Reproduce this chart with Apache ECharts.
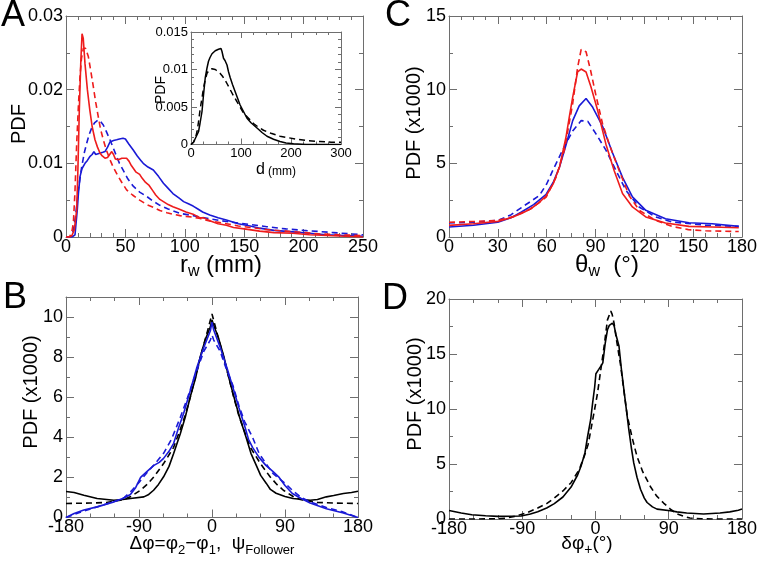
<!DOCTYPE html>
<html><head><meta charset="utf-8">
<script src="https://cdn.jsdelivr.net/npm/echarts@6/dist/echarts.min.js"></script>
<style>html,body{margin:0;padding:0;background:#fff}#c{width:760px;height:564px}</style>
</head><body><div id="c"></div>
<script>
// ---------- Panel A: r_w (mm) vs PDF ----------
const aRedSolid = [[0,0],[3,0],[5,0.0002],[7,0.001],[9,0.0037],[10,0.009],[11.2,0.0172],[12.5,0.024],[13.5,0.0276],[14.5,0.027],[16,0.0235],[18,0.02],[20,0.0173],[22,0.015],[24.4,0.0132],[26.5,0.0122],[28.6,0.0114],[30.5,0.011],[32.8,0.0107],[35,0.0108],[36.5,0.0106],[38.5,0.0116],[40,0.0112],[41.5,0.0106],[44,0.0105],[47,0.0107],[51,0.0107],[53,0.0103],[55,0.0097],[59,0.0088],[62,0.0085],[64,0.008],[67,0.0074],[70,0.007],[73,0.0063],[75.5,0.0057],[79,0.0051],[82,0.0048],[86,0.0044],[90,0.0041],[95,0.0038],[101,0.0034],[107,0.0031],[113,0.0026],[116,0.0026],[121,0.0022],[128,0.0018],[135,0.0016],[141,0.0013],[150,0.0011],[163,0.0008],[175,0.0006],[191,0.0005],[205,0.0003],[220,0.0002],[235,0.0001],[250,0]];
const aRedDashed = [[0,0],[3,0],[5,0.0008],[6.2,0.0019],[7.5,0.006],[9,0.0127],[10.5,0.018],[11.8,0.0218],[13,0.0242],[14.6,0.0256],[16.5,0.0256],[18.8,0.0245],[21,0.0224],[23,0.0204],[25,0.0183],[27.2,0.0163],[29,0.0147],[31.4,0.0132],[34,0.0118],[37,0.0105],[40,0.0094],[44,0.0082],[47,0.0074],[51,0.0064],[56,0.0057],[62,0.005],[68,0.0044],[74,0.004],[79,0.0036],[85,0.0033],[90,0.0031],[96,0.0029],[101,0.0028],[107,0.0027],[113,0.0025],[120,0.0022],[128,0.002],[135,0.0018],[145,0.0015],[155,0.0013],[169,0.001],[185,0.0008],[200,0.0006],[215,0.0004],[230,0.0003],[250,0.0002]];
const aBlueSolid = [[0,0],[5,0],[7.6,0.0003],[9.5,0.0037],[10.5,0.006],[11.8,0.0082],[13.5,0.0093],[16,0.01],[18,0.0104],[20,0.0109],[22,0.0112],[23.5,0.0116],[25,0.0112],[27,0.0113],[28.6,0.0114],[31,0.0115],[32.8,0.0116],[35,0.0122],[37,0.0129],[40,0.0131],[42.6,0.0132],[45,0.0133],[48,0.0134],[50,0.0133],[53,0.0126],[56.6,0.0118],[60,0.011],[63,0.0104],[65,0.01],[69,0.0095],[73.5,0.0091],[78,0.0082],[82,0.0073],[86,0.0066],[90,0.0059],[95,0.0053],[99,0.0048],[103,0.0045],[107,0.0042],[111,0.0038],[115,0.0034],[121,0.003],[128,0.0026],[135,0.0023],[145,0.0018],[155,0.0015],[163,0.0012],[175,0.0009],[191,0.0007],[205,0.0005],[219,0.0003],[235,0.0002],[250,0.0001]];
const aBlueDashed = [[0,0],[4,0],[6,0.0008],[8,0.0028],[10.4,0.0064],[13.2,0.0095],[15.5,0.0115],[17.4,0.0127],[19.5,0.0139],[21.6,0.0148],[24,0.0155],[27,0.0159],[29,0.0157],[31.4,0.0152],[34,0.0143],[37,0.0132],[40,0.012],[42.7,0.0109],[45,0.01],[48,0.0091],[52,0.0079],[56.6,0.0069],[62,0.0061],[68,0.0055],[73,0.0049],[79,0.0043],[86,0.0038],[96,0.0032],[107,0.0029],[120,0.0025],[135,0.0021],[150,0.0018],[169,0.0014],[185,0.0011],[200,0.0009],[225,0.0006],[250,0.0003]];
// ---------- Inset: d (mm) vs PDF ----------
const insetSolid = [[0,0],[5,0.0003],[8.6,0.0008],[15,0.0017],[18,0.0028],[22,0.0044],[25,0.0066],[28.5,0.0089],[32,0.0102],[35,0.0111],[38,0.0116],[42,0.0121],[45,0.0123],[48.5,0.0125],[52,0.0126],[55,0.0127],[58,0.0125],[60,0.0128],[62,0.0124],[65,0.0115],[68,0.0112],[72,0.0106],[75,0.0097],[78.5,0.0089],[83,0.008],[88,0.0071],[93,0.0062],[98,0.0053],[105,0.0044],[108,0.0042],[112,0.0035],[120,0.0029],[132,0.0022],[142,0.0016],[152,0.0011],[165,0.0007],[178,0.0004],[190,0.0002],[205,0.0001],[230,0],[300,0]];
const insetDashed = [[0,0],[5,0.0003],[9,0.0009],[12,0.0017],[15,0.003],[18.5,0.0048],[22,0.0062],[25,0.0075],[28,0.0085],[32,0.0095],[36,0.0099],[42,0.0101],[48.5,0.01],[53,0.0098],[58,0.0095],[63,0.0091],[68,0.0086],[73,0.008],[78.5,0.0073],[85,0.0065],[92,0.0057],[98,0.005],[105,0.0042],[115,0.0035],[125,0.0028],[135,0.0023],[145,0.0019],[160,0.0015],[178,0.0011],[195,0.0009],[211,0.0007],[235,0.0005],[258,0.0004],[280,0.0003],[300,0.0003]];
// ---------- Panel C: theta_w vs PDF (x1000) ----------
const cRedSolid = [[0,0.79],[15,0.9],[30,1.06],[38,1.3],[44.5,1.6],[50,1.9],[55,2.3],[59.7,2.8],[64,3.6],[67.9,4.75],[71.9,6.8],[74,8.2],[76,9.5],[79,11.2],[81.2,11.4],[84.2,11.2],[87.2,10.2],[91.3,8.6],[96.4,6.3],[101.5,4.5],[106.6,2.95],[112.7,2.04],[120.9,1.36],[133,0.95],[147.4,0.72],[161.7,0.68],[178,0.63]];
const cRedDashed = [[0,1.0],[15,1.05],[30,1.13],[40,1.4],[50,1.9],[59.7,2.7],[65.8,4.07],[70.9,5.9],[76,9.06],[79,11.5],[81.2,12.73],[84.2,12.57],[87,11.3],[90.3,9.6],[94.3,7.7],[98.4,6.3],[104.6,4.5],[110.7,2.8],[117,1.8],[127,1.13],[137,0.72],[147,0.5],[157.6,0.42],[178,0.37]];
const cBlueSolid = [[0,0.68],[15,0.8],[30,1.0],[38,1.3],[44.5,1.7],[52,2.2],[59.7,2.9],[64,3.7],[67.9,4.75],[72,6.3],[76,7.9],[80,8.9],[84.2,9.4],[88.3,8.8],[94.4,7.5],[100.5,5.7],[106.6,4.05],[112.7,2.72],[120.9,1.81],[133,1.24],[147.4,0.97],[161.7,0.9],[178,0.72]];
const cBlueDashed = [[0,0.95],[15,1.0],[30,1.13],[38,1.5],[44.5,2.0],[50,2.4],[55.6,2.83],[60,3.6],[63.7,4.5],[69.8,5.9],[76,7.2],[81.2,7.9],[85.3,7.85],[90.3,7.0],[96.4,5.9],[102.5,4.53],[108.7,3.17],[116.8,2.04],[127,1.36],[137,1.02],[157.6,0.8],[178,0.72]];
// ---------- Panel B: delta phi vs PDF (x1000) ----------
const bBlackSolid = [[-180,1.3],[-170,1.25],[-158,1.11],[-141.6,0.95],[-121,0.86],[-110,0.9],[-100.6,0.95],[-84,1.03],[-78,1.15],[-72,1.36],[-66,1.65],[-59.7,2.03],[-53,2.55],[-47.3,3.19],[-39,4.19],[-33,5.0],[-26.8,6.02],[-20,7.0],[-14.5,8.02],[-8,8.9],[-2.1,9.5],[0,9.85],[2,9.6],[8,8.95],[14.5,8.05],[20,7.1],[26.8,6.05],[34,5.0],[42,4.0],[48,3.2],[54.6,2.6],[60,2.1],[67,1.7],[72,1.4],[79,1.21],[90,1.05],[100,0.95],[121,0.86],[130,0.9],[141,1.03],[150,1.1],[162,1.2],[172,1.25],[180,1.31]];
const bBlackDashed = [[-180,0.7],[-150,0.72],[-130,0.75],[-115,0.85],[-108.8,0.9],[-100,1.05],[-88,1.36],[-80,1.65],[-71.6,2.03],[-59.7,2.69],[-47.3,3.5],[-40,4.3],[-33,5.1],[-26.8,6.0],[-20,7.1],[-13,8.2],[-6.2,9.2],[-2,9.85],[0,10.15],[2,9.85],[6.2,9.2],[13,8.2],[20,7.1],[26.8,6.0],[33,5.1],[40,4.3],[47.3,3.5],[59.7,2.69],[71.6,2.03],[80,1.65],[88,1.36],[100,1.05],[108.8,0.9],[115,0.85],[130,0.75],[150,0.72],[180,0.7]];
const bBlueSolid = [[-180,0],[-170,0.2],[-158,0.37],[-141.6,0.53],[-121,0.78],[-110,0.95],[-100.6,1.15],[-94,1.5],[-88,2.0],[-80,2.3],[-71.6,2.6],[-65,2.75],[-59.7,2.95],[-53,3.3],[-47.3,3.7],[-41,4.5],[-35,5.19],[-27,6.3],[-18.6,7.5],[-10,8.5],[-2.1,9.3],[0,9.75],[2.1,9.35],[10,8.5],[18.6,7.45],[25.7,6.5],[33,5.5],[40,4.6],[45,3.9],[50,3.5],[58,3.0],[66.4,2.6],[75,2.3],[82.8,2.0],[90,1.6],[99,1.2],[110,0.95],[121,0.72],[141,0.44],[162,0.22],[172,0.1],[180,0]];
const bBlueDashed = [[-180,0],[-160,0.3],[-140,0.55],[-120,0.8],[-108,1.0],[-100,1.3],[-90,1.75],[-80,2.25],[-70,2.7],[-59.7,3.2],[-50,3.9],[-39,5.0],[-30,6.0],[-18.6,7.35],[-10,8.3],[-2.1,8.85],[0,9.1],[2.1,8.85],[10,8.3],[18.6,7.3],[25.7,6.6],[33,5.6],[40,4.8],[50,4.0],[58,3.2],[66.4,2.7],[75,2.2],[90,1.7],[99,1.36],[110,1.0],[120,0.8],[141,0.5],[160,0.3],[180,0]];
// ---------- Panel D: delta phi+ vs PDF (x1000) ----------
const dBlackSolid = [[-180,0.78],[-165,0.55],[-152,0.39],[-135,0.3],[-120,0.24],[-105,0.25],[-91.4,0.27],[-80,0.45],[-71,0.66],[-60,1.0],[-50.6,1.4],[-40,2.0],[-30,2.9],[-22,4.0],[-17.8,4.8],[-13,6.0],[-9.7,7.5],[-6,9.0],[-3.6,10.5],[-1,12.0],[0.5,13.2],[4,13.6],[6.6,13.9],[9,14.2],[12,16.0],[14.7,17.2],[17,17.6],[20.8,17.8],[22.8,17.6],[25,16.8],[28.9,15.7],[32,13.5],[35,11.7],[38,9.9],[41,8.1],[44,6.5],[47,5.1],[51,3.8],[55.3,2.7],[60,1.9],[63.4,1.5],[70,1.1],[75.6,0.9],[91.9,0.75],[100,0.65],[112,0.54],[132.8,0.45],[153,0.54],[165,0.65],[175.5,0.8],[180,0.9]];
const dBlackDashed = [[-180,0],[-150,0],[-120,0.02],[-110,0.08],[-99.6,0.24],[-85,0.55],[-71,1.0],[-60,1.4],[-50.6,1.9],[-40,2.55],[-30,3.3],[-20,4.5],[-13.8,5.7],[-9,6.8],[-5.7,8.1],[-1,10.0],[2.4,11.4],[6,13.3],[10.6,15.7],[14.7,18.1],[18.8,18.9],[20.5,18.6],[22.8,17.8],[26,16.2],[31,13.9],[35,11.6],[39,9.4],[45,7.4],[51,5.69],[58,4.3],[67.4,2.96],[75,2.1],[83.7,1.45],[92,0.9],[100,0.48],[108,0.25],[116,0.09],[130,0.02],[150,0],[180,0]];

const FONT = 'Liberation Sans';
const GRAY = '#6e6e6e';
const RED = '#ee1c1c', BLUE = '#1a1ad6', BLACK = '#000';

const grids = [
  {left:66, top:16, width:297, height:221},    // A
  {left:191, top:32, width:150, height:112.5}, // inset
  {left:449, top:16, width:294, height:221},   // C
  {left:66, top:297, width:292, height:220.5}, // B
  {left:449, top:299, width:295, height:220}   // D
];
const axesCfg = [
  {x:{min:0,max:250,major:50,minor:10}, y:{min:0,max:0.03,major:0.01,minor:0.005}, fs:18},
  {x:{min:0,max:300,major:100,minor:25}, y:{min:0,max:0.015,major:0.005,minor:0.001}, fs:13},
  {x:{min:0,max:180,major:30,minor:7.5}, y:{min:0,max:15,major:5,minor:2.5}, fs:18},
  {x:{min:-180,max:180,major:90,minor:30}, y:{min:0,max:11,major:2,minor:1}, fs:18},
  {x:{min:-180,max:180,major:90,minor:30}, y:{min:0,max:20,major:5,minor:2.5}, fs:18}
];

const xAxes = [], yAxes = [], mainX = [], mainY = [];
axesCfg.forEach((c, gi) => {
  const majLen = gi === 1 ? 6 : 8, minLen = gi === 1 ? 3 : 4;
  ['bottom','top'].forEach((pos, k) => {
    if (k === 0) mainX[gi] = xAxes.length;
    xAxes.push({type:'value', gridIndex:gi, position:pos, min:c.x.min, max:c.x.max, interval:c.x.major,
      axisLine:{show:true, onZero:false, lineStyle:{color:GRAY, width:1}},
      axisTick:{show:true, inside:true, length:majLen, lineStyle:{color:GRAY}},
      axisLabel:{show:k===0, margin:gi === 1 ? 2 : 1, color:'#000', fontSize:c.fs, fontFamily:FONT},
      splitLine:{show:false}});
    xAxes.push({type:'value', gridIndex:gi, position:pos, min:c.x.min, max:c.x.max, interval:c.x.minor,
      axisLine:{show:false, onZero:false},
      axisTick:{show:true, inside:true, length:minLen, lineStyle:{color:GRAY}},
      axisLabel:{show:false}, splitLine:{show:false}});
  });
  ['left','right'].forEach((pos, k) => {
    if (k === 0) mainY[gi] = yAxes.length;
    yAxes.push({type:'value', gridIndex:gi, position:pos, min:c.y.min, max:c.y.max, interval:c.y.major,
      axisLine:{show:true, onZero:false, lineStyle:{color:GRAY, width:1}},
      axisTick:{show:true, inside:true, length:majLen, lineStyle:{color:GRAY}},
      axisLabel:{show:k===0, margin:3, color:'#000', fontSize:c.fs, fontFamily:FONT,
        formatter: v => (Math.abs(v / c.y.major - Math.round(v / c.y.major)) < 1e-6 ? String(+v.toFixed(4)) : '')},
      splitLine:{show:false}});
    yAxes.push({type:'value', gridIndex:gi, position:pos, min:c.y.min, max:c.y.max, interval:c.y.minor,
      axisLine:{show:false, onZero:false},
      axisTick:{show:true, inside:true, length:minLen, lineStyle:{color:GRAY}},
      axisLabel:{show:false}, splitLine:{show:false}});
  });
});

function line(gi, data, color, dashed, w) {
  return {type:'line', xAxisIndex:mainX[gi], yAxisIndex:mainY[gi], data:data, showSymbol:false, symbol:'none',
    animation:false, silent:true,
    lineStyle:{color:color, width:w || 1.6, type: dashed ? [6,4] : 'solid'}};
}
const series = [
  line(0, aBlueDashed, BLUE, true), line(0, aBlueSolid, BLUE, false),
  line(0, aRedDashed, RED, true), line(0, aRedSolid, RED, false),
  line(1, insetDashed, BLACK, true, 1.5), line(1, insetSolid, BLACK, false, 1.5),
  line(2, cBlueDashed, BLUE, true), line(2, cBlueSolid, BLUE, false),
  line(2, cRedDashed, RED, true), line(2, cRedSolid, RED, false),
  line(3, bBlackDashed, BLACK, true), line(3, bBlackSolid, BLACK, false),
  line(3, bBlueDashed, BLUE, true), line(3, bBlueSolid, BLUE, false),
  line(4, dBlackDashed, BLACK, true), line(4, dBlackSolid, BLACK, false)
];

function txt(x, y, text, size, rot, rich) {
  const o = {type:'text', x:x, y:y, silent:true,
    style:{text:text, fontSize:size, fontFamily:FONT, fill:'#000', align:'center', verticalAlign:'middle'}};
  if (rot) o.rotation = rot;
  if (rich) o.style.rich = rich;
  return o;
}
const R = Math.PI / 2;
const sub = (n, s) => ({n:{fontSize:n, fontFamily:FONT, fill:'#000', verticalAlign:'top', lineHeight:n+2},
  s:{fontSize:s, fontFamily:FONT, fill:'#000', verticalAlign:'top', lineHeight:n+2, padding:[Math.round(n*0.45),0,0,0]}});
const graphics = [
  txt(13, 16, 'A', 36), txt(398, 16, 'C', 36), txt(15, 298, 'B', 36), txt(395, 299, 'D', 36),
  txt(19, 124, 'PDF', 20, R), txt(161, 90, 'PDF', 14, R),
  txt(414, 123, 'PDF (x1000)', 20, R), txt(31, 392, 'PDF (x1000)', 20, R), txt(415, 394, 'PDF (x1000)', 20, R),
  txt(221, 266, '{n|r}{s|w}{n| (mm)}', 24, 0, sub(24, 16)),
  txt(276, 170, '{n|d}{s| (mm)}', 16, 0, {n:{fontSize:16, fontFamily:FONT, fill:'#000', verticalAlign:'bottom'}, s:{fontSize:12, fontFamily:FONT, fill:'#000', verticalAlign:'bottom'}}),
  txt(607, 266, '{n|θ}{s|w}{n|  (°)}', 24, 0, sub(24, 16)),
  txt(212, 545, '{n|Δφ=φ}{s|2}{n|−φ}{s|1}{n|,  ψ}{s|Follower}', 19, 0, sub(19, 13)),
  txt(587, 545, '{n|δφ}{s|+}{n|(°)}', 19, 0, sub(19, 14))
];

const chart = echarts.init(document.getElementById('c'), null, {renderer:'canvas'});
chart.setOption({
  animation:false,
  backgroundColor:'#fff',
  grid: grids,
  xAxis: xAxes,
  yAxis: yAxes,
  series: series,
  graphic: graphics
});
</script></body></html>
